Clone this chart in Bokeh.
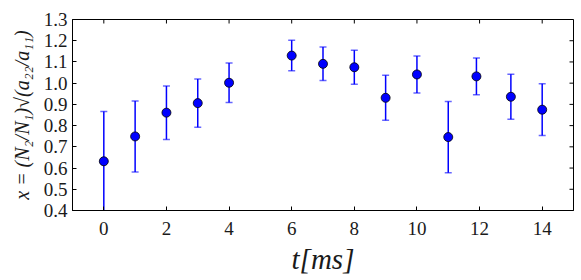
import math
from bokeh.plotting import figure
from bokeh.models import ColumnDataSource, Range1d, FixedTicker, PrintfTickFormatter
from bokeh.embed import file_html
from bokeh.resources import INLINE

# ---- data ----
t_ms = [0, 1, 2, 3, 4, 6, 7, 8, 9, 10, 11, 11.9, 13, 14]
ratio = [0.632, 0.749, 0.861, 0.906, 1.002, 1.130, 1.091, 1.075, 0.931,
         1.041, 0.746, 1.032, 0.936, 0.875]
err = [0.235, 0.167, 0.126, 0.114, 0.093, 0.072, 0.079, 0.080, 0.106,
       0.087, 0.168, 0.087, 0.106, 0.122]
x_ticks = [0, 2, 4, 6, 8, 10, 12, 14]
y_ticks = [0.4, 0.5, 0.6, 0.7, 0.8, 0.9, 1.0, 1.1, 1.2, 1.3]
x_label = "t[ms]"
y_label = "x = (N\u2082/N\u2081)\u221a(a\u2082\u2082/a\u2081\u2081)"
x_min, x_max = -1, 15
y_min, y_max = 0.4, 1.3

upper = [v + e for v, e in zip(ratio, err)]
lower = [v - e for v, e in zip(ratio, err)]
src = ColumnDataSource(dict(t=t_ms, v=ratio, up=upper, lo=lower))

p = figure(width=581, height=280, output_backend="svg", toolbar_location=None,
           x_range=Range1d(x_min, x_max), y_range=Range1d(y_min, y_max),
           min_border_left=72, min_border_right=8, min_border_top=19,
           min_border_bottom=70)
p.background_fill_color = "white"
p.border_fill_color = "white"
p.grid.visible = False
p.outline_line_color = "black"
p.outline_line_width = 1

# error bars
p.segment(x0="t", y0="lo", x1="t", y1="up", source=src, line_color="blue",
          line_width=1.5)
p.scatter(x="t", y="up", source=src, marker="dash", size=7, line_color="blue",
          line_alpha=0.6, line_width=1.5)
p.scatter(x="t", y="lo", source=src, marker="dash", size=7, line_color="blue",
          line_alpha=0.6, line_width=1.5)
# points
p.scatter(x="t", y="v", source=src, marker="circle", size=9, fill_color="blue",
          line_color="black", line_width=0.8)

# inward ticks on the top and right frame edges (half clipped by the frame)
p.scatter(x=x_ticks, y=[y_max] * len(x_ticks), marker="dash", size=8,
          angle=math.pi / 2, line_color="black", line_width=1)
p.scatter(x=[x_max] * len(y_ticks), y=y_ticks, marker="dash", size=8,
          line_color="black", line_width=1)

font = "Liberation Serif"

for ax in (p.xaxis[0], p.yaxis[0]):
    ax.axis_line_color = "black"
    ax.major_tick_line_color = "black"
    ax.major_tick_in = 4
    ax.major_tick_out = 0
    ax.minor_tick_line_color = None
    ax.major_label_text_font = font
    ax.major_label_text_font_size = "19px"
    ax.major_label_text_color = "#1a1a1a"

p.xaxis.major_label_standoff = 11
p.yaxis.major_label_standoff = 5

p.xaxis.ticker = FixedTicker(ticks=x_ticks)
p.yaxis.ticker = FixedTicker(ticks=y_ticks)
p.yaxis.formatter = PrintfTickFormatter(format="%.1f")

p.xaxis.axis_label = x_label
p.xaxis.axis_label_text_font = font
p.xaxis.axis_label_text_font_style = "italic"
p.xaxis.axis_label_text_font_size = "29px"
p.xaxis.axis_label_text_color = "#1a1a1a"
p.xaxis.axis_label_standoff = 5

p.yaxis.axis_label = y_label
p.yaxis.axis_label_text_font = font
p.yaxis.axis_label_text_font_style = "italic"
p.yaxis.axis_label_text_font_size = "20px"
p.yaxis.axis_label_text_color = "#1a1a1a"
p.yaxis.axis_label_standoff = 8

open("out.html", "w").write(file_html(p, INLINE))
